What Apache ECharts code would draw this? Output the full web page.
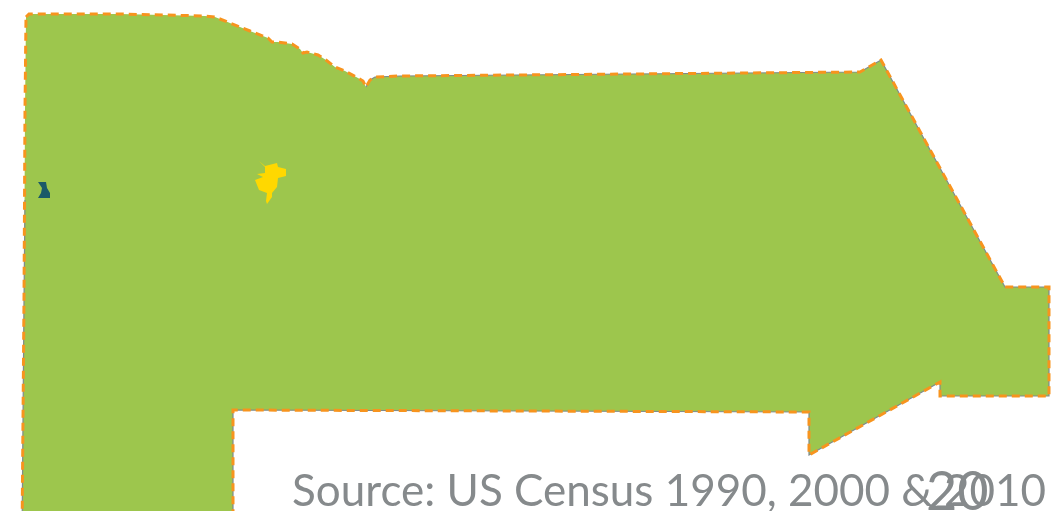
<!DOCTYPE html>
<html>
<head>
<meta charset="utf-8">
<title>Census map</title>
<script src="https://cdn.jsdelivr.net/npm/echarts@6/dist/echarts.min.js"></script>
<style>
    html, body { margin: 0; padding: 0; background: #fff; overflow: hidden; }
    #chart { width: 1051px; height: 511px; }
</style>
</head>
<body>
<div id="chart"></div>
<script>
// outlines in map units, north is up
const countyOutline = [
    [26, -17], [29, -14], [120, -14], [205, -16], [215, -17], [230, -23], [250, -31], [268, -38], [272, -42], [278, -42],
    [292, -44], [300, -49], [303, -53], [307, -52], [318, -55], [326, -60], [335, -67], [345, -71],
    [358, -78], [363, -81], [366, -87], [370, -80], [375, -77], [400, -76], [860, -72], [881, -60],
    [1005, -287], [1049, -287], [1049, -396], [940, -396], [940, -382], [809, -455], [809, -412],
    [233, -410], [233, -540], [22, -540], [24, -300], [25, -110]
];
const grayEdgeRight = [
    [366, -87], [370, -80], [375, -77], [400, -76], [860, -72], [881, -60],
    [1005, -287], [1049, -287], [1049, -396], [940, -396], [940, -382], [809, -455], [809, -412],
    [233, -410], [233, -540]
];
const grayEdgeLeft = [[22, -540], [24, -300], [25, -200]];
const placeTeal = [
    [38, -182], [46, -182], [47, -188], [50, -193], [50, -198], [38, -198], [41, -193], [42, -188], [40, -185]
];
const placeYellow = [
    [259, -161], [265, -166], [277, -163], [278, -167], [286, -169], [286, -176], [278, -178], [277, -187],
    [272, -193], [272, -197], [267, -204], [266, -201], [267, -193], [259, -190], [255, -180], [263, -177],
    [257, -174], [258, -173], [265, -173], [265, -167]
];
const sourceText = 'Source: US Census 1990, 2000 & 2010';
const pageNumber = '20';

function polygon(name, ring) {
    return {
        type: 'Feature',
        properties: { name: name },
        geometry: { type: 'Polygon', coordinates: [ring.concat([ring[0]])] }
    };
}

function line(name, points) {
    return {
        type: 'Feature',
        properties: { name: name },
        geometry: { type: 'LineString', coordinates: points }
    };
}

echarts.registerMap('fills', {
    type: 'FeatureCollection',
    features: [polygon('county', countyOutline), polygon('teal', placeTeal), polygon('yellow', placeYellow)]
});
echarts.registerMap('edges', {
    type: 'FeatureCollection',
    features: [
        line('grayRight', grayEdgeRight),
        line('grayLeft', grayEdgeLeft),
        polygon('county', countyOutline)
    ]
});

const mapBox = { left: 22, top: 14, width: 1027, height: 526, roam: false, silent: true, label: { show: false } };
const noFill = 'rgba(0,0,0,0)';
const grayEdge = { areaColor: noFill, color: noFill, borderColor: '#7f8a8c', borderWidth: 1.2 };

const chart = echarts.init(document.getElementById('chart'));
chart.setOption({
    animation: false,
    title: [
        {
            text: sourceText,
            right: 0,
            top: 465,
            textStyle: { color: '#868a8c', fontFamily: 'Lato', fontWeight: 'normal', fontSize: 44 }
        },
        {
            text: pageNumber,
            left: 921,
            top: 461,
            textStyle: { color: '#868a8c', fontFamily: 'Lato', fontWeight: 'normal', fontSize: 54 }
        }
    ],
    series: [
        Object.assign({}, mapBox, {
            type: 'map',
            map: 'fills',
            z: 1,
            itemStyle: { areaColor: '#9dc64d', borderWidth: 0 },
            data: [
                { name: 'county', itemStyle: { areaColor: '#9dc64d', borderWidth: 0 } },
                { name: 'teal', itemStyle: { areaColor: '#1b5a68', borderWidth: 0 } },
                { name: 'yellow', itemStyle: { areaColor: '#ffd800', borderWidth: 0 } }
            ]
        }),
        Object.assign({}, mapBox, {
            type: 'map',
            map: 'edges',
            z: 2,
            itemStyle: { areaColor: noFill, borderWidth: 0 },
            data: [
                { name: 'grayRight', itemStyle: grayEdge },
                { name: 'grayLeft', itemStyle: grayEdge },
                {
                    name: 'county',
                    itemStyle: { areaColor: noFill, borderColor: '#f7941e', borderWidth: 3, borderType: [8, 5] }
                }
            ]
        })
    ]
});
window.addEventListener('resize', () => chart.resize());
</script>
</body>
</html>
